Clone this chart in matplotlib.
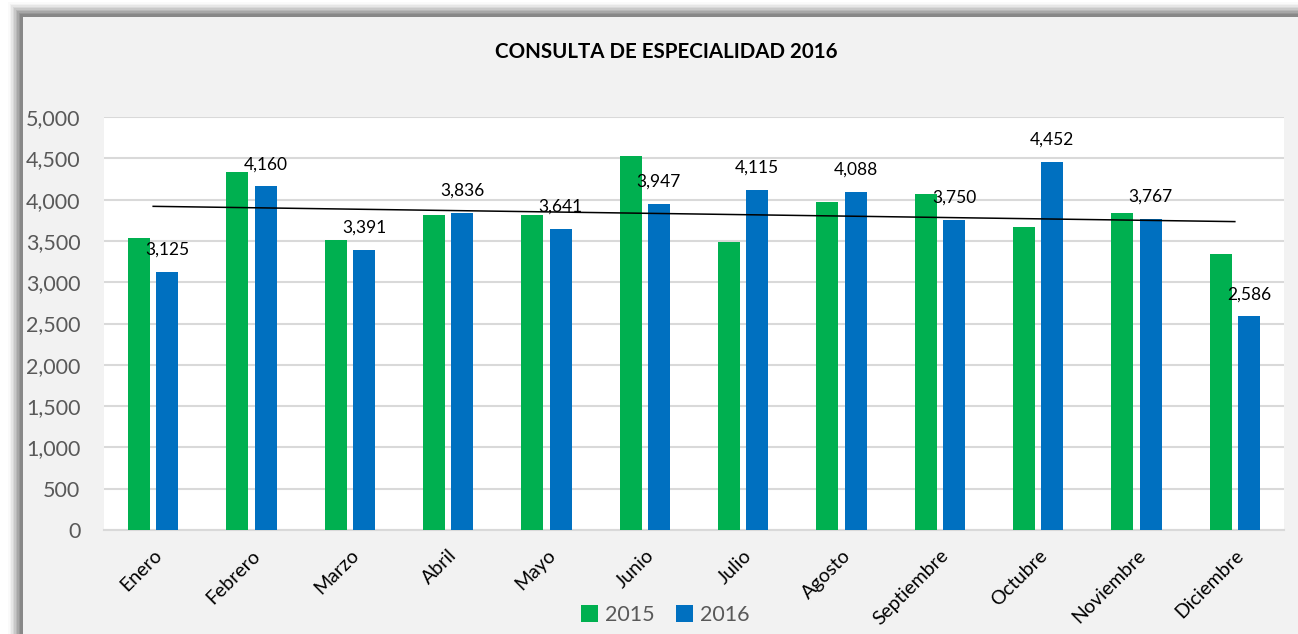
import matplotlib
matplotlib.use("Agg")
import matplotlib.pyplot as plt
from matplotlib.patches import Rectangle
import numpy as np

months = ["Enero", "Febrero", "Marzo", "Abril", "Mayo", "Junio", "Julio",
          "Agosto", "Septiembre", "Octubre", "Noviembre", "Diciembre"]
vals_2015 = [3540, 4331, 3512, 3810, 3819, 4524, 3484, 3976, 4069, 3669, 3835, 3343]
vals_2016 = [3125, 4160, 3391, 3836, 3641, 3947, 4115, 4088, 3750, 4452, 3767, 2586]
yticks = [0, 500, 1000, 1500, 2000, 2500, 3000, 3500, 4000, 4500, 5000]
title = "CONSULTA DE ESPECIALIDAD 2016"

FONT = ["Lato", "DejaVu Sans"]
plt.rcParams['font.family'] = FONT

W, H = 1298, 634
fig = plt.figure(figsize=(W / 100, H / 100), dpi=100)
fig.patch.set_facecolor("white")

# shadow + chart background
for i, a in enumerate(np.linspace(0.05, 0.4, 9)):
    off = 15 - i * 1.5
    fig.patches.append(Rectangle(((23 - off) / W, 0), 1, (634 - 17 + off) / H,
                                 transform=fig.transFigure, facecolor="#505050",
                                 alpha=a * 0.5, edgecolor="none", zorder=0))
fig.patches.append(Rectangle((23 / W, 0), 1, (634 - 17) / H, transform=fig.transFigure,
                             facecolor="#f2f2f2", edgecolor="none", zorder=1))

ax = fig.add_axes([104 / W, 1 - 530 / H, (1284 - 104) / W, (530 - 117) / H])
ax.set_facecolor("white")
ax.set_zorder(2)

x = np.arange(len(months))
bw = 0.222
gap = 0.287
ax.bar(x - gap / 2, vals_2015, width=bw, color="#00b050", label="2015", zorder=3)
ax.bar(x + gap / 2, vals_2016, width=bw, color="#0070c0", label="2016", zorder=3)

for xi, v in zip(x, vals_2016):
    ax.annotate(f"{v:,}", (xi + gap / 2, v), xytext=(0, 16), textcoords="offset points",
                ha="center", va="center", fontsize=12.5, color="#000000", zorder=5)

# linear trend of 2015
coef = np.polyfit(x, vals_2015, 1)
ax.plot(x, np.polyval(coef, x), color="black", lw=1.1, zorder=4)

ax.set_xlim(-0.5, len(months) - 0.5)
ax.set_ylim(0, 5000)
ax.set_yticks(yticks)
ax.set_yticklabels([f"{t:,}" for t in yticks], fontsize=15.5, color="#595959")
ax.yaxis.grid(True, color="#d9d9d9", lw=1.5, zorder=0)
ax.set_axisbelow(True)
ax.tick_params(axis="y", length=0, pad=17)
ax.tick_params(axis="x", length=0, pad=12)
ax.set_xticks(x)
ax.set_xticklabels(months, rotation=45, ha="right", va="top", rotation_mode="anchor",
                   fontsize=14, color="#000000")
for s in ["top", "right", "left"]:
    ax.spines[s].set_visible(False)
ax.spines["bottom"].set_color("#d9d9d9")
ax.spines["bottom"].set_linewidth(1.5)

fig.text(666 / W, 1 - 52 / H, title, ha="center", va="center", fontsize=14.8,
         fontweight="bold", color="#000000", zorder=5)

leg = fig.legend(loc="center", bbox_to_anchor=(665 / W, 1 - 615 / H), ncol=2,
                 frameon=False, fontsize=15.5, handlelength=0.8, handleheight=0.8,
                 handletextpad=0.3, columnspacing=1.0)
for t in leg.get_texts():
    t.set_color("#595959")

fig.savefig("out.png", dpi=100, facecolor=fig.get_facecolor())
